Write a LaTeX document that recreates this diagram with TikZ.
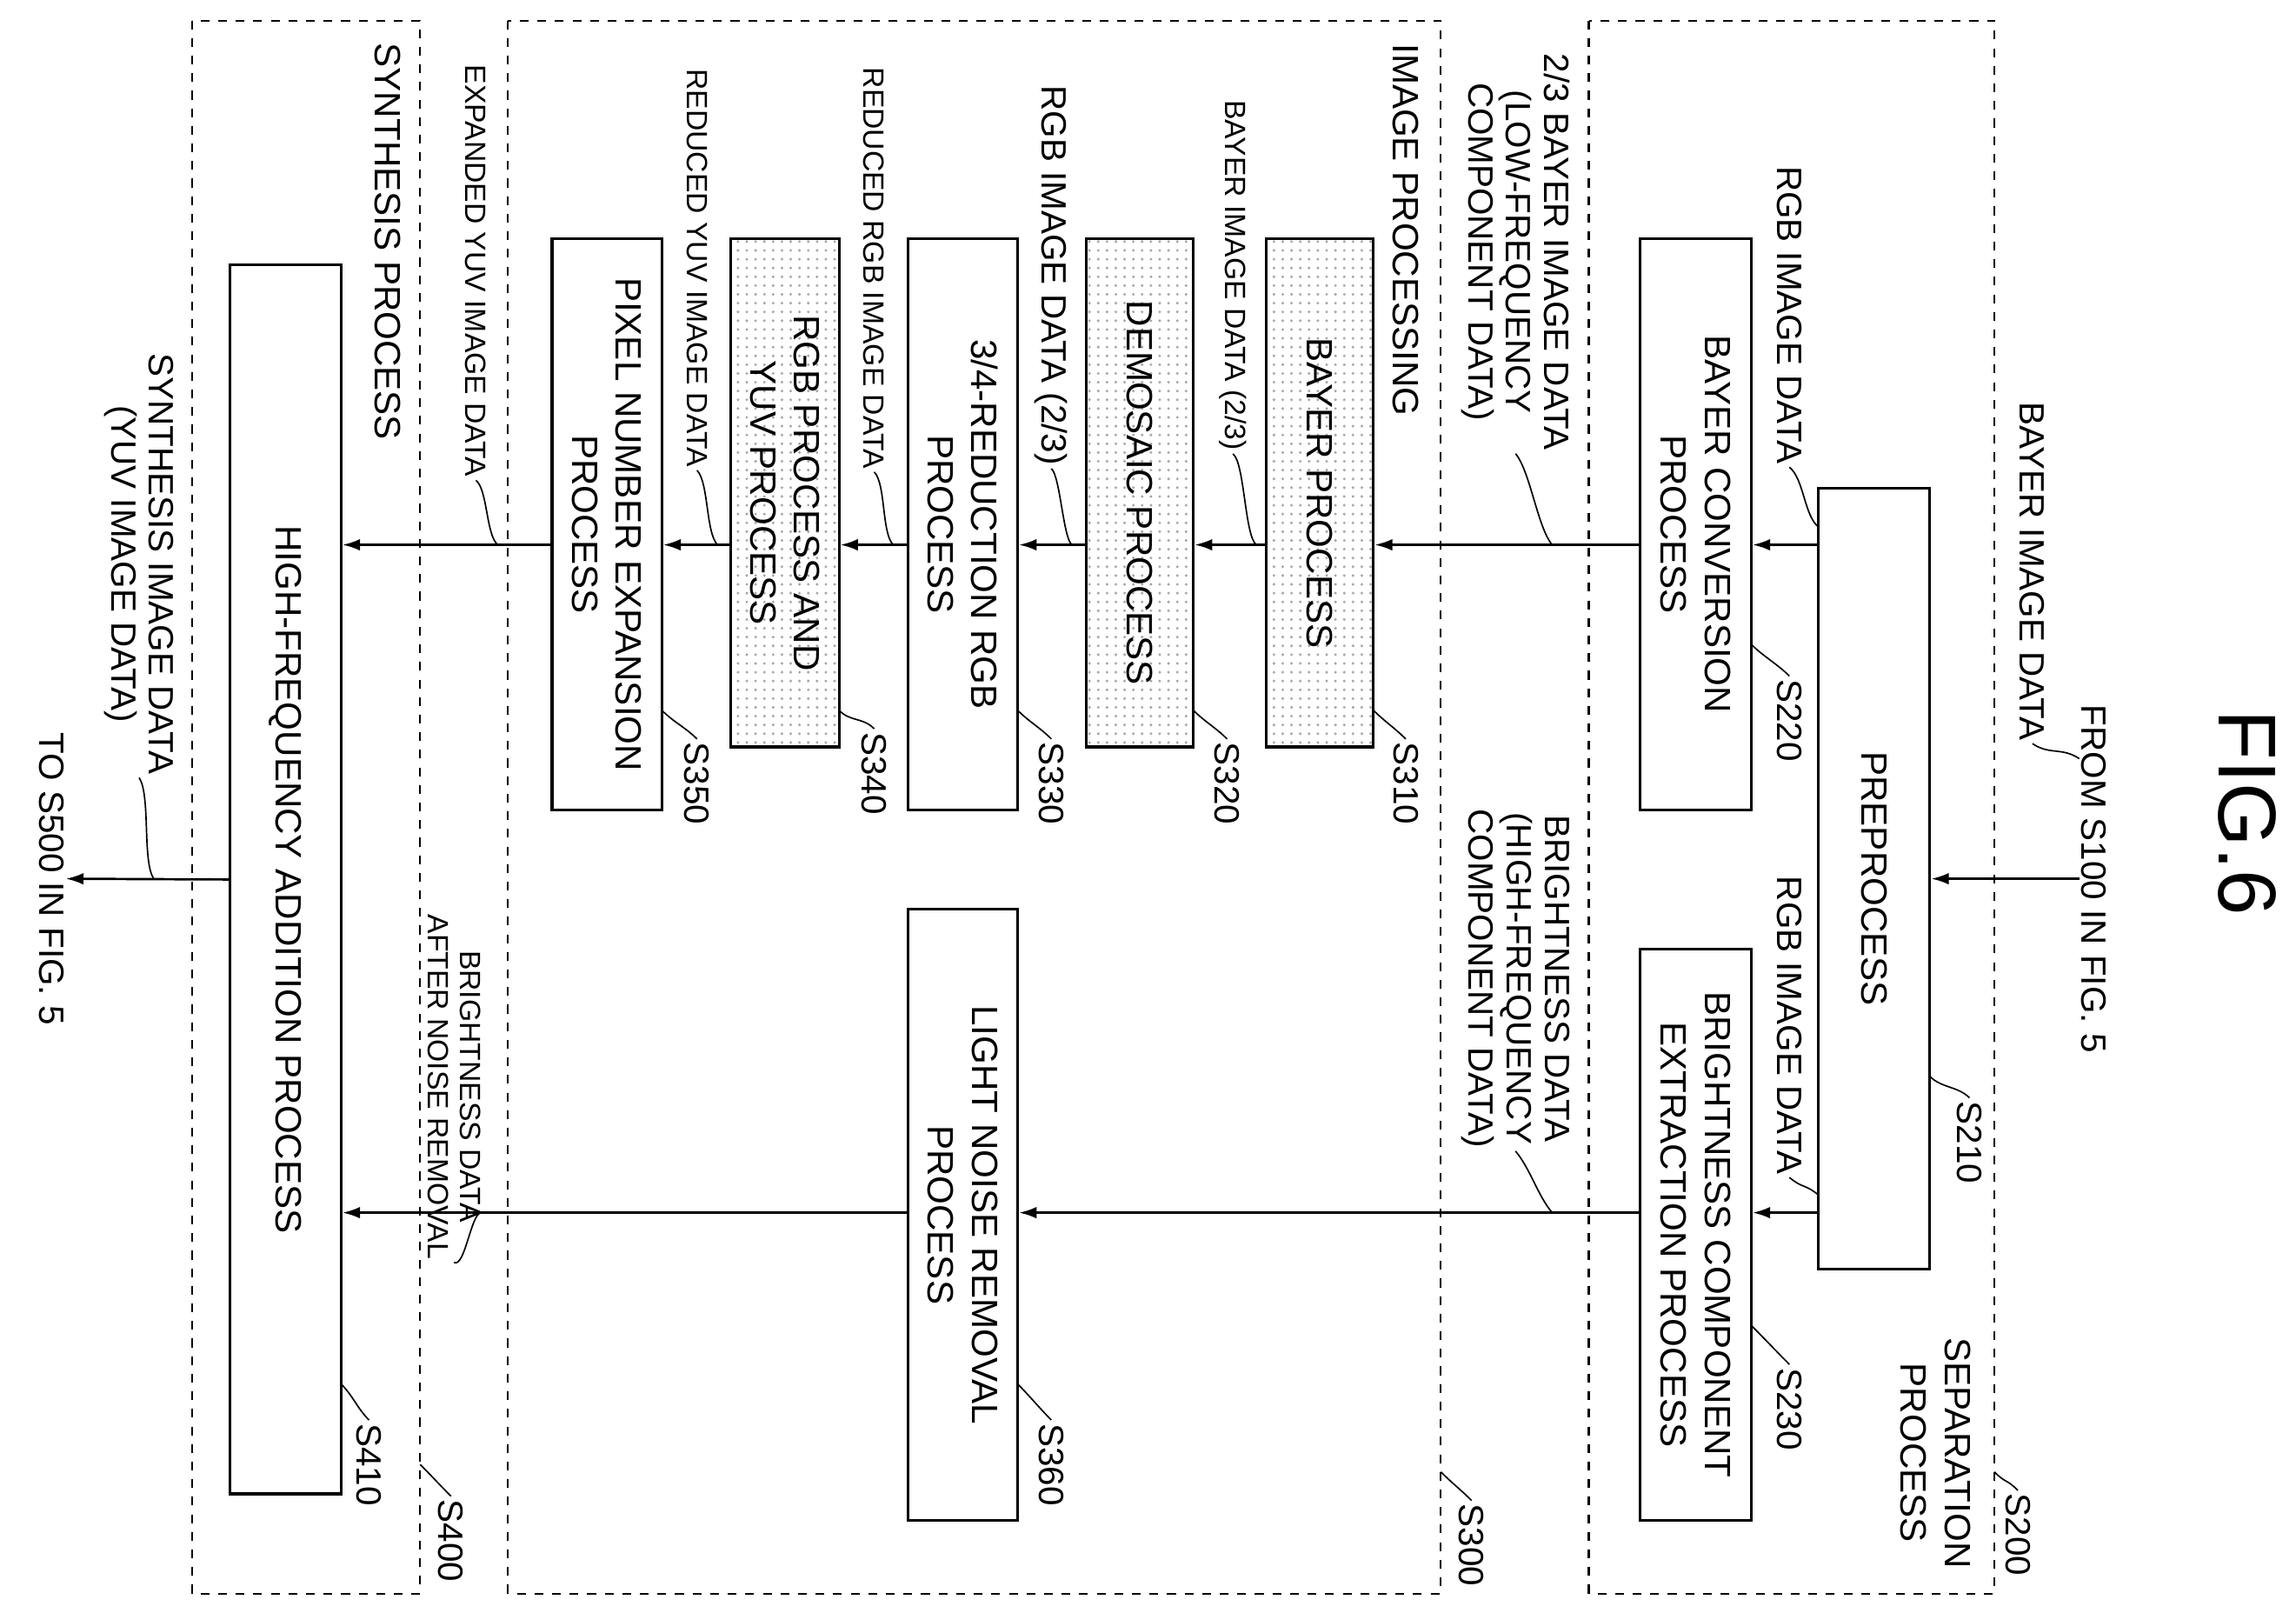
\documentclass[tikz,border=0pt]{standalone}
\usepackage{fontspec}
\setmainfont{Liberation Sans}
\usetikzlibrary{arrows.meta,patterns}
\begin{document}
\begin{tikzpicture}[x=0.5pt,y=-0.5pt,
  box/.style={draw,line width=0.9pt,rotate=-90,align=center,font=\fontsize{12.5}{15}\selectfont,inner sep=0pt},
  shaded/.style={box,pattern=dots,pattern color=gray!70},
  grp/.style={draw,dashed,line width=0.6pt},
  lbl/.style={rotate=-90,align=center,font=\fontsize{12}{13}\selectfont,inner sep=1pt},
  slbl/.style={rotate=-90,align=center,font=\fontsize{10}{11}\selectfont,inner sep=1pt},
  arr/.style={-{Latex[length=6pt,width=4pt]},line width=0.8pt},
  sq/.style={line width=0.5pt}]
\useasboundingbox (0,0) rectangle (1568,1101);
% groups
\draw[grp] (1085,14) rectangle (1362,1088);
\draw[grp] (347,14) rectangle (984,1088);
\draw[grp] (131,14) rectangle (287,1088);
\node[rotate=-90,font=\fontsize{28}{30}\selectfont] (fig) at (1535,555) {FIG.6};
% boxes
\node[box,minimum width=533*0.5pt,minimum height=76*0.5pt] (pre) at (1280,600) {PREPROCESS};
\node[box,minimum width=390*0.5pt,minimum height=76*0.5pt] (bc) at (1158,358) {BAYER CONVERSION\\PROCESS};
\node[box,minimum width=390*0.5pt,minimum height=76*0.5pt] (be) at (1158,843) {BRIGHTNESS COMPONENT\\EXTRACTION PROCESS};
\node[shaded,minimum width=347*0.5pt,minimum height=73*0.5pt] (bp) at (901.5,336.5) {BAYER PROCESS};
\node[shaded,minimum width=347*0.5pt,minimum height=73*0.5pt] (dm) at (778.5,336.5) {DEMOSAIC PROCESS};
\node[box,minimum width=390*0.5pt,minimum height=75*0.5pt] (rd) at (657.5,358) {3/4-REDUCTION RGB\\PROCESS};
\node[shaded,minimum width=347*0.5pt,minimum height=74*0.5pt] (ry) at (536,336.5) {RGB PROCESS AND\\YUV PROCESS};
\node[box,minimum width=390*0.5pt,minimum height=75*0.5pt] (px) at (414.5,358) {PIXEL NUMBER EXPANSION\\PROCESS};
\node[box,minimum width=417*0.5pt,minimum height=75*0.5pt] (ln) at (657.5,829.5) {LIGHT NOISE REMOVAL\\PROCESS};
\node[box,minimum width=839*0.5pt,minimum height=76*0.5pt] (hf) at (195,600.5) {HIGH-FREQUENCY ADDITION PROCESS};
% in/out coordinates
\coordinate (in) at (1420,600);
\coordinate (out) at (45,600);
% arrows
\draw[arr] (in) -- (pre.north);
\draw[arr] (pre.south |- 0,372) -- (bc.north |- 0,372);
\draw[arr] (pre.south |- 0,828) -- (be.north |- 0,828);
\draw[arr] (bc.south |- 0,372) -- (bp.north |- 0,372);
\draw[arr] (be.south |- 0,828) -- (ln.north |- 0,828);
\draw[arr] (bp.south |- 0,372) -- (dm.north |- 0,372);
\draw[arr] (dm.south |- 0,372) -- (rd.north |- 0,372);
\draw[arr] (rd.south |- 0,372) -- (ry.north |- 0,372);
\draw[arr] (ry.south |- 0,372) -- (px.north |- 0,372);
\draw[arr] (px.south |- 0,372) -- (hf.north |- 0,372);
\draw[arr] (ln.south |- 0,828) -- (hf.north |- 0,828);
\draw[arr] (hf.south) -- (out);
% data labels
\node[lbl] (l0) at (1430,600) {FROM S100 IN FIG. 5};
\node[lbl] (l1) at (1388,390) {BAYER IMAGE DATA};
\draw[sq] (l1.east) .. controls +(12,8) and +(-12,-8) .. (1420,518);
\node[lbl] (l2) at (1222,215) {RGB IMAGE DATA};
\draw[sq] (l2.east) .. controls +(10,8) and +(-10,-8) .. (1242,360);
\node[lbl] (l3) at (1222,700) {RGB IMAGE DATA};
\draw[sq] (l3.east) .. controls +(10,8) and +(-10,-8) .. (1242,816);
\node[lbl] (l4) at (1035,172) {2/3 BAYER IMAGE DATA\\(LOW-FREQUENCY\\COMPONENT DATA)};
\draw[sq] (l4.east) .. controls +(10,12) and +(-10,-12) .. (1060,372);
\node[lbl] (l5) at (1035,668) {BRIGHTNESS DATA\\(HIGH-FREQUENCY\\COMPONENT DATA)};
\draw[sq] (l5.east) .. controls +(10,12) and +(-10,-12) .. (1060,828);
\node[slbl] (l6) at (842,188) {BAYER IMAGE DATA (2/3)};
\draw[sq] (l6.east) .. controls +(8,6) and +(-8,-6) .. (858,372);
\node[lbl] (l7) at (718,188) {RGB IMAGE DATA (2/3)};
\draw[sq] (l7.east) .. controls +(6,5) and +(-6,-5) .. (732,372);
\node[slbl] (l8) at (597,183) {REDUCED RGB IMAGE DATA};
\draw[sq] (l8.east) .. controls +(8,8) and +(-8,-8) .. (610,372);
\node[slbl] (l9) at (476,183) {REDUCED YUV IMAGE DATA};
\draw[sq] (l9.east) .. controls +(8,8) and +(-8,-8) .. (490,372);
\node[slbl] (l10) at (325,185) {EXPANDED YUV IMAGE DATA};
\draw[sq] (l10.east) .. controls +(8,6) and +(-8,-6) .. (340,372);
\node[slbl] (l11) at (310,742) {BRIGHTNESS DATA\\AFTER NOISE REMOVAL};
\draw[sq] (l11.east) .. controls +(8,4) and +(-8,-4) .. (330,828);
\node[lbl] (l12) at (95,385) {SYNTHESIS IMAGE DATA\\(YUV IMAGE DATA)};
\draw[sq] (l12.east) .. controls +(8,12) and +(-8,-12) .. (105,600);
\node[lbl] (l13) at (35,600) {TO S500 IN FIG. 5};
% section labels
\node[lbl,font=\fontsize{12.5}{15}\selectfont] (s1) at (1322,992) {SEPARATION\\PROCESS};
\node[lbl,font=\fontsize{12.5}{15}\selectfont] (s2) at (960,157) {IMAGE PROCESSING};
\node[lbl,font=\fontsize{12.5}{15}\selectfont] (s3) at (265,165) {SYNTHESIS PROCESS};
% step labels
\foreach \n/\x/\y/\bx/\by in {S210/1345/780/1318/735, S220/1222/492/1196/440, S230/1222/962/1196/905,
  S310/960/535/938/485, S320/838/535/815/485, S330/718/535/695/485, S340/597/528/573/485,
  S350/476/535/452/485, S360/718/1000/695/945, S410/252/1000/233/945,
  S200/1378/1048/1362/1005, S300/1005/1055/984/1005, S400/308/1052/287/1000}{
  \node[lbl] (t\n) at (\x,\y) {\n};
  \draw[sq] (\bx,\by) .. controls +(8,8) and +(-8,-8) .. (t\n.west);
}
\end{tikzpicture}
\end{document}
